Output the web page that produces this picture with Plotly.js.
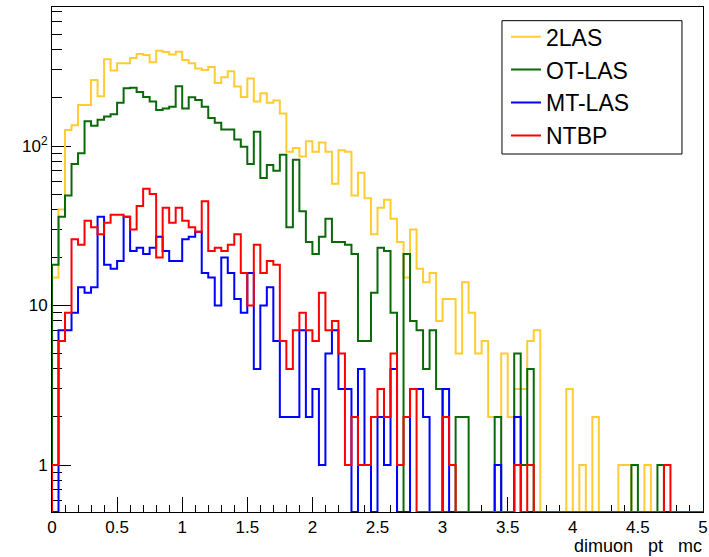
<!DOCTYPE html>
<html>
<head>
<meta charset="utf-8">
<script src="https://cdn.plot.ly/plotly-3.0.1.min.js"></script>
<style>
  html, body { margin: 0; padding: 0; background: #fff; }
  #chart { width: 709px; height: 557px; }
</style>
</head>
<body>
<div id="chart"></div>
<script>
// Histogram definition: 100 bins from 0 to 5 (dimuon pt)
const nBins = 100;
const xMin = 0;
const xMax = 5;

// Series names (legend)
const seriesNames = ["2LAS", "OT-LAS", "MT-LAS", "NTBP"];
const seriesColors = ["#ffcc33", "#0a6a0a", "#0000ff", "#ff0000"];

// Bin contents (bin 0 = [0,0.05), ... bin 99 = [4.95,5))
const las2 = [
  15, 40, 126, 135, 181, 181, 259, 205, 350, 297,
  330, 330, 356, 377, 372, 335, 396, 388, 375, 390,
  346, 330, 306, 300, 313, 248, 270, 294, 236, 203,
  265, 190, 214, 187, 193, 160, 92, 97, 86, 107,
  92, 105, 92, 58, 94, 92, 49, 68, 47, 28,
  41, 46, 35, 25, 15, 30, 17, 14, 16, 8,
  11, 11, 5, 14, 9, 5, 6, 2, 2, 5,
  2, 3, 3, 6, 7, 0, 0, 0, 0, 3,
  0, 1, 0, 2, 0, 0, 0, 1, 1, 0,
  0, 1, 0, 0, 0, 0, 0, 0, 0, 0
];
const otLas = [
  18, 36, 49, 77, 90, 143, 134, 146, 153, 158,
  187, 230, 232, 218, 203, 190, 168, 172, 176, 237,
  172, 202, 194, 176, 150, 140, 127, 127, 110, 99,
  77, 123, 63, 76, 70, 88, 31, 82, 39, 25,
  21, 27, 35, 25, 25, 24, 21, 6, 6, 12,
  23, 22, 9, 0, 21, 8, 7, 4, 7, 3,
  0, 0, 2, 2, 0, 0, 0, 0, 2, 0,
  0, 5, 1, 4, 0, 0, 0, 0, 0, 0,
  0, 0, 0, 0, 0, 0, 0, 0, 0, 1,
  0, 0, 0, 1, 0, 0, 0, 0, 0, 0
];
const mtLas = [
  0, 7, 7, 9, 13, 12, 13, 36, 18, 17,
  19, 36, 22, 23, 21, 23, 27, 22, 19, 19,
  26, 27, 29, 16, 15, 10, 20, 16, 11, 9,
  16, 4, 10, 13, 6, 2, 2, 2, 7, 2,
  3, 1, 5, 7, 3, 3, 0, 4, 1, 0,
  2, 1, 4, 0, 0, 3, 3, 2, 0, 0,
  3, 0, 0, 0, 0, 0, 0, 0, 1, 0,
  0, 2, 0, 0, 0, 0, 0, 0, 0, 0,
  0, 0, 0, 0, 0, 0, 0, 0, 0, 0,
  0, 0, 0, 0, 0, 0, 0, 0, 0, 0
];
const ntbp = [
  1, 6, 9, 26, 24, 34, 31, 28, 33, 37,
  37, 36, 30, 42, 54, 50, 20, 41, 33, 41,
  34, 31, 29, 45, 22, 23, 22, 24, 28, 16,
  10, 24, 16, 19, 18, 6, 4, 7, 9, 7,
  6, 12, 7, 8, 5, 1, 2, 1, 1, 2,
  3, 2, 5, 1, 2, 3, 0, 0, 0, 0,
  2, 1, 0, 0, 0, 0, 0, 0, 0, 0,
  0, 1, 0, 1, 0, 0, 0, 0, 0, 0,
  0, 0, 0, 0, 0, 0, 0, 0, 0, 0,
  0, 0, 0, 0, 1, 0, 0, 0, 0, 0
];

// Tick labels
const xTickVals = [0, 0.5, 1, 1.5, 2, 2.5, 3, 3.5, 4, 4.5, 5];
const xTickText = ["0", "0.5", "1", "1.5", "2", "2.5", "3", "3.5", "4", "4.5", "5"];
const xMinorVals = [0.1,0.2,0.3,0.4,0.6,0.7,0.8,0.9,1.1,1.2,1.3,1.4,1.6,1.7,1.8,1.9,
  2.1,2.2,2.3,2.4,2.6,2.7,2.8,2.9,3.1,3.2,3.3,3.4,3.6,3.7,3.8,3.9,4.1,4.2,4.3,4.4,4.6,4.7,4.8,4.9];
const yTickVals = [1, 10, 100];
const yTickText = ["1", "10", "10<sup>2</sup>"];
const yMinorVals = [0.6,0.7,0.8,0.9,2,3,4,5,6,7,8,9,20,30,40,50,60,70,80,90,200,300,400,500,600,700];
const xTitle = "dimuon\u00a0\u00a0 pt\u00a0\u00a0 mc";

const yLogRange = [-0.2947, 2.8715];
const floorVal = Math.pow(10, yLogRange[0]);

const binW = (xMax - xMin) / nBins;
const edges = [];
for (let i = 0; i < nBins; i++) edges.push(xMin + i * binW);

function stepTrace(vals, name, color) {
  const x = [xMin].concat(edges, [xMax]);
  const yv = vals.map(v => (v > 0 ? v : floorVal));
  const y = [floorVal].concat(yv, [yv[yv.length - 1]]);
  return {
    type: "scatter", mode: "lines", name: name, x: x, y: y,
    line: { shape: "hv", color: color, width: 2 },
    hoverinfo: "skip"
  };
}

const series = [las2, otLas, mtLas, ntbp];
const traces = series.map((s, k) => stepTrace(s, seriesNames[k], seriesColors[k]));

const font = "Liberation Sans, Arial, Helvetica, sans-serif";

const layout = {
  width: 709, height: 557,
  margin: { l: 52, r: 6, t: 7, b: 45, pad: 0 },
  paper_bgcolor: "#ffffff", plot_bgcolor: "#ffffff",
  font: { family: font, size: 17, color: "#000" },
  showlegend: true,
  legend: {
    x: 0.6974, y: 0.9837, xanchor: "left", yanchor: "top",
    bgcolor: "rgba(0,0,0,0)", borderwidth: 0,
    font: { family: font, size: 23, color: "#000" }
  },
  xaxis: {
    range: [xMin, xMax], type: "linear",
    showgrid: false, zeroline: false,
    showline: true, mirror: true, linecolor: "#000", linewidth: 1,
    ticks: "inside", ticklen: 15, tickwidth: 1, tickcolor: "#000",
    tickmode: "array", tickvals: xTickVals, ticktext: xTickText,
    tickfont: { family: font, size: 17, color: "#000" },
    minor: { tickmode: "array", tickvals: xMinorVals, ticks: "inside", ticklen: 7.5, tickwidth: 1, tickcolor: "#000", showgrid: false },
    layer: "below traces",
    fixedrange: true
  },
  yaxis: {
    type: "log", range: yLogRange,
    showgrid: false, zeroline: false,
    showline: true, mirror: true, linecolor: "#000", linewidth: 1,
    ticks: "inside", ticklen: 19, tickwidth: 1, tickcolor: "#000",
    tickmode: "array", tickvals: yTickVals, ticktext: yTickText,
    tickfont: { family: font, size: 17, color: "#000" },
    minor: { tickmode: "array", tickvals: yMinorVals, ticks: "inside", ticklen: 10, tickwidth: 1, tickcolor: "#000", showgrid: false },
    layer: "below traces",
    fixedrange: true
  },
  shapes: [{
    type: "rect", xref: "paper", yref: "paper",
    x0: 0.6912, x1: 0.9677, y0: 0.7089, y1: 0.9729,
    line: { color: "#000", width: 1 }, fillcolor: "#ffffff", layer: "above"
  }],
  annotations: [{
    xref: "paper", yref: "paper", x: 1, y: -0.0673,
    xanchor: "right", yanchor: "middle", showarrow: false, borderpad: 0,
    text: xTitle, font: { family: font, size: 18, color: "#000" }
  }]
};

Plotly.newPlot("chart", traces, layout, { displayModeBar: false, staticPlot: true });
</script>
</body>
</html>
